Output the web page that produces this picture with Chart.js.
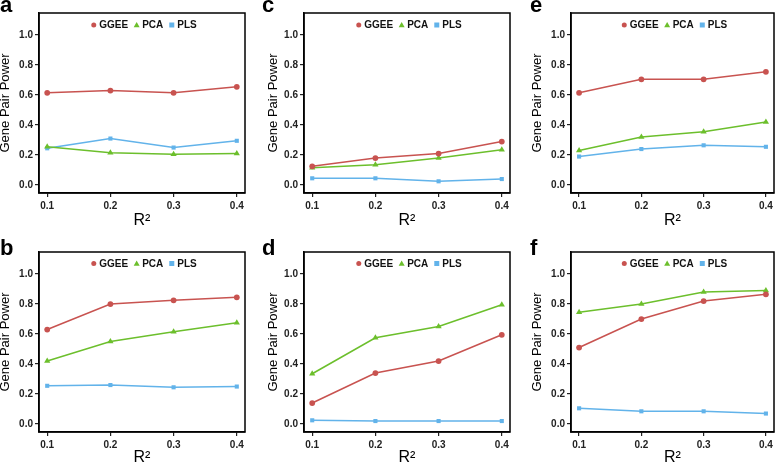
<!DOCTYPE html>
<html>
<head>
<meta charset="utf-8">
<script src="https://cdn.jsdelivr.net/npm/chart.js@4.4.1/dist/chart.umd.min.js"></script>
<style>
  html, body { margin: 0; padding: 0; background: #fff; }
  #wrap { position: relative; width: 778px; height: 467px; overflow: hidden; background: #fff; }
  canvas { position: absolute; }
  .lbl { position: absolute; font-family: "Liberation Sans", Arial, sans-serif; font-weight: bold; font-size: 22px; line-height: 22px; color: #000; }
</style>
</head>
<body>
<div id="wrap"></div>
<script>
// ---- data ----
const xValues = [0.1, 0.2, 0.3, 0.4];
const xTicks = [0.1, 0.2, 0.3, 0.4];
const yTicks = [0.0, 0.2, 0.4, 0.6, 0.8, 1.0];
const seriesNames = ["GGEE", "PCA", "PLS"];
const panelLetters = ["a", "c", "e", "b", "d", "f"];

const ggeeA = [0.615, 0.630, 0.615, 0.655];
const pcaA  = [0.255, 0.215, 0.205, 0.210];
const plsA  = [0.245, 0.310, 0.250, 0.295];

const ggeeC = [0.125, 0.180, 0.210, 0.290];
const pcaC  = [0.115, 0.135, 0.180, 0.235];
const plsC  = [0.045, 0.045, 0.025, 0.040];

const ggeeE = [0.615, 0.705, 0.705, 0.755];
const pcaE  = [0.230, 0.320, 0.355, 0.420];
const plsE  = [0.190, 0.240, 0.265, 0.255];

const ggeeB = [0.630, 0.800, 0.825, 0.845];
const pcaB  = [0.420, 0.550, 0.615, 0.675];
const plsB  = [0.255, 0.260, 0.245, 0.250];

const ggeeD = [0.140, 0.340, 0.420, 0.595];
const pcaD  = [0.335, 0.575, 0.650, 0.795];
const plsD  = [0.025, 0.020, 0.020, 0.020];

const ggeeF = [0.510, 0.700, 0.820, 0.865];
const pcaF  = [0.745, 0.800, 0.880, 0.890];
const plsF  = [0.105, 0.085, 0.085, 0.070];

const panelData = [
  [ggeeA, pcaA, plsA],
  [ggeeC, pcaC, plsC],
  [ggeeE, pcaE, plsE],
  [ggeeB, pcaB, plsB],
  [ggeeD, pcaD, plsD],
  [ggeeF, pcaF, plsF]
];

// ---- styles / layout ----
const FONT = "'Liberation Sans', Arial, sans-serif";
const colors = ["#c85350", "#6cbf2c", "#62b3ea"];
const pointStyles = ["circle", "triangle", "rect"];
const pointRadii = [2.9, 3.6, 2.9];

// canvas left, canvas width, box left, box right
const cols = [
  { cl: -2,  cw: 261, bl: 39,  br: 245, letterX: 0 },
  { cl: 266, cw: 250, bl: 304, br: 510, letterX: 262 },
  { cl: 530, cw: 248, bl: 571, br: 776, letterX: 530 }
];
const rows = [
  { ct: 0,   ch: 230, bt: 13,  bb: 193, letterTop: -6.5, legendDy: 12 },
  { ct: 230, ch: 237, bt: 252, bb: 432, letterTop: 236.5, legendDy: 11.5 }
];

const boxPlugin = {
  id: 'boxAndLegend',
  afterDraw(chart) {
    const { ctx, chartArea: a } = chart;
    ctx.save();
    ctx.strokeStyle = '#000';
    ctx.lineWidth = 1.5;
    ctx.strokeRect(a.left, a.top, a.right - a.left, a.bottom - a.top);
    // legend inside plot
    const dy = chart.options.plugins.boxAndLegend.dy;
    ctx.font = "bold 10px " + FONT;
    ctx.textBaseline = 'middle';
    const ds = chart.data.datasets;
    const mk = 5, gapText = 3, gapItem = 6;
    let widths = ds.map(d => ctx.measureText(d.label).width);
    let total = widths.reduce((s, w) => s + mk + gapText + w, 0) + gapItem * (ds.length - 1);
    let x = (a.left + a.right) / 2 - total / 2 + 2;
    const y = a.top + dy;
    ds.forEach((d, i) => {
      ctx.fillStyle = d.borderColor;
      const cx = x + mk / 2;
      ctx.beginPath();
      if (d.pointStyle === 'circle') {
        ctx.arc(cx, y, 2.5, 0, Math.PI * 2);
      } else if (d.pointStyle === 'triangle') {
        ctx.moveTo(cx, y - 3);
        ctx.lineTo(cx + 3, y + 2.3);
        ctx.lineTo(cx - 3, y + 2.3);
        ctx.closePath();
      } else {
        ctx.rect(cx - 2.5, y - 2.5, 5, 5);
      }
      ctx.fill();
      x += mk + gapText;
      ctx.fillStyle = '#111';
      ctx.fillText(d.label, x, y + 0.5);
      x += widths[i] + gapItem;
    });
    ctx.restore();
  }
};

const wrap = document.getElementById('wrap');

panelData.forEach((series, p) => {
  const col = cols[p % 3];
  const row = rows[Math.floor(p / 3)];
  const cv = document.createElement('canvas');
  cv.style.left = col.cl + 'px';
  cv.style.top = row.ct + 'px';
  cv.style.width = col.cw + 'px';
  cv.style.height = row.ch + 'px';
  cv.width = col.cw;
  cv.height = row.ch;
  wrap.appendChild(cv);

  const lab = document.createElement('div');
  lab.className = 'lbl';
  lab.textContent = panelLetters[p];
  lab.style.left = col.letterX + 'px';
  lab.style.top = row.letterTop + 'px';
  wrap.appendChild(lab);

  const datasets = series.map((vals, i) => ({
    label: seriesNames[i],
    data: xValues.map((x, k) => ({ x: x, y: vals[k] })),
    borderColor: colors[i],
    backgroundColor: colors[i],
    pointStyle: pointStyles[i],
    pointRadius: pointRadii[i],
    pointBorderWidth: 0,
    borderWidth: 1.6,
    tension: 0,
    fill: false
  }));

  const yAxisWidth = col.bl - col.cl;
  const xAxisHeight = (row.ct + row.ch) - row.bb;

  new Chart(cv, {
    type: 'line',
    data: { datasets },
    plugins: [boxPlugin],
    options: {
      responsive: false,
      animation: false,
      devicePixelRatio: 1,
      layout: {
        padding: {
          left: 0,
          top: row.bt - row.ct,
          right: (col.cl + col.cw) - col.br,
          bottom: 0
        }
      },
      plugins: {
        legend: { display: false },
        tooltip: { enabled: false },
        boxAndLegend: { dy: row.legendDy }
      },
      scales: {
        x: {
          type: 'linear',
          min: 0.087,
          max: 0.413,
          afterBuildTicks: s => { s.ticks = xTicks.map(v => ({ value: v })); },
          afterFit: s => { s.height = xAxisHeight; },
          grid: { display: true, drawOnChartArea: false, drawTicks: true, tickLength: 4, color: '#222', lineWidth: 1.2 },
          border: { display: true, color: '#000', width: 1.5 },
          ticks: {
            color: '#222',
            padding: 3,
            maxRotation: 0,
            font: { family: FONT, size: 10, weight: 'bold' },
            callback: v => v.toFixed(1)
          },
          title: {
            display: true,
            text: 'R²',
            color: '#000',
            padding: { top: 0, bottom: 0 },
            font: { family: FONT, size: 16 }
          }
        },
        y: {
          type: 'linear',
          min: -0.053,
          max: 1.147,
          afterBuildTicks: s => { s.ticks = yTicks.map(v => ({ value: v })); },
          afterFit: s => { s.width = yAxisWidth; },
          grid: { display: true, drawOnChartArea: false, drawTicks: true, tickLength: 4, color: '#222', lineWidth: 1.2 },
          border: { display: true, color: '#000', width: 1.5 },
          ticks: {
            color: '#222',
            padding: 2,
            font: { family: FONT, size: 10, weight: 'bold' },
            callback: v => v.toFixed(1)
          },
          title: {
            display: true,
            text: 'Gene Pair Power',
            color: '#000',
            padding: { top: 0, bottom: 0 },
            font: { family: FONT, size: 13 }
          }
        }
      }
    }
  });
});
</script>
</body>
</html>
